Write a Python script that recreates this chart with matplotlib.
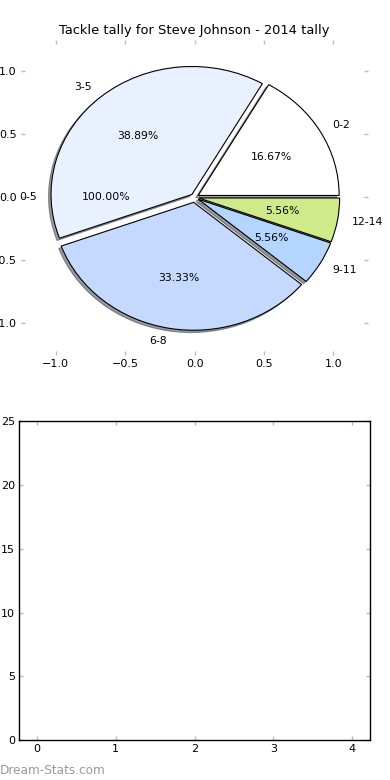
import matplotlib
matplotlib.use("Agg")
import matplotlib.pyplot as plt

# ---- data ----
labels = ["0-2", "3-5", "6-8", "9-11", "12-14"]
tackles = [3, 7, 6, 1, 1]
colors = ["#ffffff", "#e9f0fe", "#c5d9fe", "#b4d5fe", "#ceea8a"]
explode = [0.03, 0.03, 0.04, 0.03, 0.03]
total_label = ["0-5"]
total_value = [1]
total_explode = [0.035]
title = "Tackle tally for Steve Johnson - 2014 tally"
pie_ticks = [-1.0, -0.5, 0.0, 0.5, 1.0]
bar_xticks = [0, 1, 2, 3, 4]
bar_yticks = [0, 5, 10, 15, 20, 25]

plt.rcParams["font.family"] = "DejaVu Sans"
plt.rcParams["font.size"] = 7.8

fig = plt.figure(figsize=(3.9, 7.8), dpi=100)

# ---- top pie axes ----
ax1 = fig.add_axes([0.054, 0.545, 0.890, 0.404])
# invisible total wedge (only its label and percentage remain)
ax1.pie(total_value, labels=total_label, autopct="%.2f%%", explode=total_explode,
        wedgeprops=dict(alpha=0.0), textprops=dict(color="black"))
ax1.pie(tackles, labels=labels, colors=colors, explode=explode,
        autopct="%.2f%%", radius=1.015,
        shadow=dict(ox=-0.013, oy=-0.013, shade=0.75),
        wedgeprops=dict(edgecolor="black", linewidth=0.8))
ax1.set_aspect("auto")
ax1.set_xlim(-1.25, 1.25)
ax1.set_ylim(-1.25, 1.25)
ax1.set_frame_on(False)
ax1.set_xticks(pie_ticks)
ax1.set_yticks(pie_ticks)
ax1.set_xticklabels([f"{v:.1f}".replace("-", "\u2212") for v in pie_ticks])
ax1.set_yticklabels([f"{v:.1f}".replace("-", "\u2212") for v in pie_ticks])
ax1.tick_params(direction="in", length=3, width=1, color="#bbbbbb",
                top=True, right=True, pad=3, labelsize=8.0)
ax1.set_title(title, fontsize=9.4, pad=4)

# ---- bottom empty axes ----
ax2 = fig.add_axes([0.0495, 0.0509, 0.899, 0.409])
ax2.set_xlim(-0.225, 4.225)
ax2.set_ylim(0, 25)
ax2.set_xticks(bar_xticks)
ax2.set_yticks(bar_yticks)
ax2.tick_params(direction="in", length=3, width=1, color="#bbbbbb",
                top=True, right=True, pad=3, labelsize=8.0)
for sp in ax2.spines.values():
    sp.set_linewidth(1.0)
    sp.set_color("black")

fig.text(0.0, 0.004, "Dream-Stats.com", color="#999999", fontsize=8.7,
         ha="left", va="bottom")

fig.savefig("out.png", dpi=100)
